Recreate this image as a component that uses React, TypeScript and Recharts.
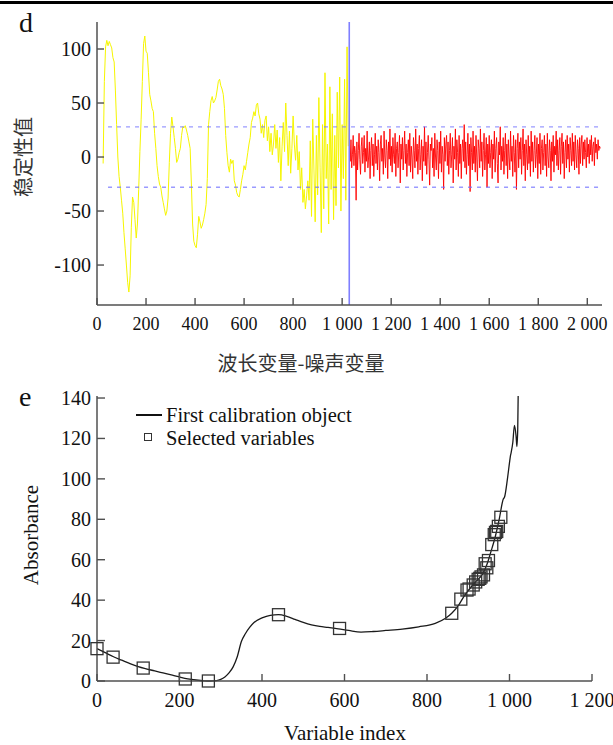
import React from 'react';
import { LineChart, Line, XAxis, YAxis, ReferenceLine, ComposedChart, Scatter } from 'recharts';

// ---------- Panel d data ----------
const wavelengthStart = 25;
const wavelengthStep = 5;
const wavelengthValues = [
  -6, 70, 102, 108, 103, 107, 104, 101, 92, 88,
  62, 30, 0, -18, -28, -40, -52, -70, -85, -100,
  -116, -125, -110, -65, -37, -42, -58, -75, -62, -30,
  5, 35, 70, 105, 112, 98, 96, 78, 58, 52,
  45, 42, 22, 8, -8, -18, -25, -28, -36, -42,
  -48, -54, -50, -38, -5, 22, 37, 28, 18, 8,
  -5, -2, 4, 8, 20, 28, 27, 29, 25, 20,
  14, 8, -25, -62, -78, -82, -84, -72, -55, -60,
  -66, -63, -58, -52, -44, -20, 30, 42, 52, 56,
  50, 52, 55, 62, 70, 72, 66, 63, 58, 45,
  20, 4, -8, -14, -2, -6, -3, -22, -26, -33,
  -36, -37, -30, -22, -16, -8, -12, -4, 4, 12,
  18, 32, 36, 42, 38, 48, 50, 40, 35, 22,
  30, 18, 34, 38, 15, 28, 5, 22, 2, 12,
  30, 8, 25, -5, 18, -22, 10, 32, 5, 50,
  20, -8, 24, -15, 8, 38, 12, -3, 20, -12,
  5, -30, -10, -42, -30, -48, -36, -22, -40, 15,
  -55, 35, -12, -60, 20, -35, 55, -10, -70, 30,
  -48, 78, -20, 12, -62, 65, -30, 40, -58, 20,
  -45, 60, -10, 74, -50, 30, -20, 72, -40, 102,
  10,
];
const noiseStart = 1030;
const noiseStep = 3;
const noiseValues = [
  12, -4, 16, -10, 2, 20, -8, 10, 4, -40, 14, -12, 6, 22, -2, -16, 10, 18, -6,
  4, 20, -14, 8, -4, 24, -10, 0, 14, -20, 6, 18, -8, 12, -18, 2, 22, -6, 10,
  -12, 16, 4, -22, 12, 20, -4, 8, -16, 24, 0, -10, 16, 6, -20, 14, -2, 26, -8,
  10, -14, 18, 2, -6, 22, -18, 8, 14, -10, 4, 20, -24, 12, -2, 18, -12, 6, 24,
  -6, 12, -18, 4, 16, -8, 22, -14, 10, 0, -20, 18, 6, -10, 26, -4, 12, -16, 8,
  20, -12, 2, 16, -22, 10, -4, 28, -8, 14, -16, 4, 20, -2, -26, 12, 6, 18, -10,
  8, -18, 22, 0, -12, 16, 6, -20, 14, -6, 24, -14, 10, 2, -30, 18, -4, 12, 20,
  -8, 14, -16, 6, 22, -10, 2, 18, -24, 10, -2, 26, -12, 16, 4, -18, 20, -6, 12,
  -20, 8, 16, -4, 30, -10, 14, -16, 2, 22, -8, 12, -32, 18, 4, -12, 24, -6, 10,
  -14, 20, 0, -22, 16, 8, -10, 26, -4, 14, -18, 6, 22, -12, 2, 18, -28, 12, -6,
  20, -10, 4, 16, -20, 12, -2, 24, -14, 8, 18, -6, -24, 14, 2, 28, -12, 10, -4,
  18, -16, 6, 22, -8, 12, -20, 16, 0, -12, 24, -4, 10, -18, 20, 4, -14, 16, -30,
  8, 22, -10, 14, -2, 18, -16, 6, 26, -8, 12, -22, 16, 2, -12, 20, -6, 10, -18,
  24, -4, 14, -14, 6, 20, -10, 2, 18, -20, 12, -6, 22, -16, 8, 16, -12, 4, 20,
  -8, 12, -18, 22, 0, -10, 16, 6, -22, 14, -4, 20, -14, 10, 2, 24, -8, 16, -12,
  6, 18, -16, 10, 22, -6, 14, -20, 4, 16, -10, 20, -2, 12, -14, 18, 6, -8, 22,
  -4, 14, -12, 20, 2, -10, 16, 8, -16, 18, -6, 12, 20, -8, 14, -2, 16, 4, -10,
  18, 0, 12, -6, 16, 2, 20, -4, 10, 14, -8, 18, 4, 12, -2, 16, 6, 10, 8,
];
const thresholdValue = 28;
const thresholdFrom = 45;
const thresholdTo = 2045;
const splitVariable = 1029;
const dXTicks = [0, 200, 400, 600, 800, 1000, 1200, 1400, 1600, 1800, 2000];
const dYTicks = [-100, -50, 0, 50, 100];

// ---------- Panel e data ----------
const curveX = [0, 20, 40, 60, 80, 100, 115, 140, 160, 180, 200, 220, 240, 260, 275, 290, 300, 310, 320, 330, 340, 350, 360, 370, 380, 400, 420, 440, 460, 480, 500, 520, 540, 560, 585, 610, 640, 670, 700, 740, 780, 820, 845, 860, 875, 890, 905, 920, 935, 945, 955, 965, 975, 985, 988, 995, 1000, 1002, 1004, 1008, 1012, 1016, 1018, 1020, 1021];
const curveY = [16, 14, 12, 10.3, 8.6, 7.1, 6.2, 5, 4, 3, 2, 1.1, 0.5, 0.1, 0, 0.2, 0.8, 2, 4, 7, 12, 19.5, 23.5, 26.5, 28.8, 31.2, 32.5, 32.8, 32, 30.5, 29, 27.8, 27, 26.5, 25.8, 25, 24.2, 24.5, 25, 25.7, 26.8, 28.5, 31, 33.5, 37, 42, 46, 49.5, 53, 57.5, 64, 71, 80, 90, 91, 100, 108, 111, 113, 118, 126.5, 121, 116, 125, 141];
const selectedX = [0, 39, 112, 214, 270, 440, 588, 860, 882, 897, 902, 912, 918, 924, 928, 931, 937, 941, 945, 949, 957, 963, 966, 969, 973, 979];
const selectedY = [16, 11.8, 6.4, 1, 0, 32.8, 26, 33.5, 40.5, 45, 45.5, 47.5, 49, 50.3, 50.8, 51.5, 52.5, 58, 56, 59.6, 67.5, 72.4, 73.5, 74, 76.5, 81];
const eXTicks = [0, 200, 400, 600, 800, 1000, 1200];
const eYTicks = [0, 20, 40, 60, 80, 100, 120, 140];

const wavelengthData = wavelengthValues.map((v, i) => ({ x: wavelengthStart + i * wavelengthStep, y: v }));
const noiseData = noiseValues.map((v, i) => ({ x: noiseStart + i * noiseStep, y: v }));
const upperData = [{ x: thresholdFrom, y: thresholdValue }, { x: thresholdTo, y: thresholdValue }];
const lowerData = [{ x: thresholdFrom, y: -thresholdValue }, { x: thresholdTo, y: -thresholdValue }];
const curveData = curveX.map((x, i) => ({ x, y: curveY[i] }));
const selectedData = selectedX.map((x, i) => ({ x, y: selectedY[i] }));

const SERIF = '"Liberation Serif", "Times New Roman", serif';
const CJK = '"Noto Sans CJK SC", sans-serif';
const AXIS = '#505050';

const fmt = (v: number) => {
  if (Math.abs(v) >= 1000) {
    const th = Math.floor(v / 1000);
    return `${th} ${String(v % 1000).padStart(3, '0')}`;
  }
  return String(v);
};

const makeXTick = (fontSize: number, len: number, dy: number) => (props: any) => {
  const { x, y, payload } = props;
  return (
    <g>
      <line x1={x} x2={x} y1={y} y2={y - len} stroke={AXIS} strokeWidth={1.4} />
      <text x={x} y={y + dy} textAnchor="middle" fontFamily={SERIF} fontSize={fontSize} fill="#111">
        {fmt(payload.value)}
      </text>
    </g>
  );
};

const makeYTick = (fontSize: number, len: number) => (props: any) => {
  const { x, y, payload } = props;
  return (
    <g>
      <line x1={x} x2={x + len} y1={y} y2={y} stroke={AXIS} strokeWidth={1.4} />
      <text x={x - 6} y={y} dy="0.35em" textAnchor="end" fontFamily={SERIF} fontSize={fontSize} fill="#111">
        {fmt(payload.value)}
      </text>
    </g>
  );
};

const SquareShape = (props: any) => {
  const { cx, cy } = props;
  return <rect x={cx - 6} y={cy - 6} width={12} height={12} fill="none" stroke="#333" strokeWidth={1.3} />;
};

export default function App() {
  return (
    <div style={{ position: 'absolute', left: 0, top: 0, width: 613, height: 745, background: '#fff', overflow: 'hidden' }}>
      <div style={{ position: 'absolute', left: 0, top: 1, width: 613, height: 3, background: '#000' }} />

      {/* Panel d */}
      <div style={{ position: 'absolute', left: 0, top: 0 }}>
        <LineChart width={613} height={345} margin={{ top: 22, right: 11, bottom: 0, left: 0 }}>
          <XAxis
            type="number"
            dataKey="x"
            domain={[0, 2060]}
            ticks={dXTicks}
            interval={0}
            height={40}
            tickSize={0}
            tickMargin={0}
            tickLine={false}
            axisLine={{ stroke: AXIS, strokeWidth: 1.5 }}
            tick={makeXTick(18, 7, 25)}
          />
          <YAxis
            type="number"
            domain={[-137, 125]}
            ticks={dYTicks}
            interval={0}
            width={97}
            tickSize={0}
            tickMargin={0}
            tickLine={false}
            axisLine={{ stroke: AXIS, strokeWidth: 1.5 }}
            tick={makeYTick(20, 7)}
          />
          <Line data={wavelengthData} dataKey="y" stroke="#f6f600" strokeWidth={1} dot={false} isAnimationActive={false} type="linear" />
          <Line data={noiseData} dataKey="y" stroke="#ff0000" strokeWidth={0.9} dot={false} isAnimationActive={false} type="linear" />
          <Line data={upperData} dataKey="y" stroke="#6f6fff" strokeOpacity={0.7} strokeWidth={1.3} strokeDasharray="4 5" dot={false} isAnimationActive={false} />
          <Line data={lowerData} dataKey="y" stroke="#6f6fff" strokeOpacity={0.7} strokeWidth={1.3} strokeDasharray="4 5" dot={false} isAnimationActive={false} />
          <ReferenceLine x={splitVariable} stroke="#7f7fff" strokeWidth={1.6} />
        </LineChart>
      </div>

      {/* Panel e */}
      <div style={{ position: 'absolute', left: 0, top: 380 }}>
        <ComposedChart width={613} height={365} margin={{ top: 16, right: 21, bottom: 0, left: 0 }}>
          <XAxis
            type="number"
            dataKey="x"
            domain={[0, 1200]}
            ticks={eXTicks}
            interval={0}
            height={64}
            tickSize={0}
            tickMargin={0}
            tickLine={false}
            axisLine={{ stroke: AXIS, strokeWidth: 1.5 }}
            tick={makeXTick(20, 7, 26)}
          />
          <YAxis
            type="number"
            dataKey="y"
            domain={[0, 140]}
            ticks={eYTicks}
            interval={0}
            width={97}
            tickSize={0}
            tickMargin={0}
            tickLine={false}
            axisLine={{ stroke: AXIS, strokeWidth: 1.5 }}
            tick={makeYTick(20, 8)}
          />
          <Line data={curveData} dataKey="y" stroke="#1a1a1a" strokeWidth={1.3} dot={false} isAnimationActive={false} type="monotone" />
          <Scatter data={selectedData} dataKey="y" shape={<SquareShape />} isAnimationActive={false} />
        </ComposedChart>
      </div>

      {/* Panel letters and axis titles */}
      <div style={{ position: 'absolute', left: 19, top: 6, fontFamily: SERIF, fontSize: 28, lineHeight: '34px', color: '#111' }}>d</div>
      <div style={{ position: 'absolute', left: 19, top: 380, fontFamily: SERIF, fontSize: 28, lineHeight: '34px', color: '#111' }}>e</div>

      <div style={{ position: 'absolute', left: 22, top: 157, width: 0, height: 0 }}>
        <div style={{ position: 'absolute', transform: 'translate(-50%, -50%) rotate(-90deg)', whiteSpace: 'nowrap', fontFamily: CJK, fontSize: 20, color: '#333' }}>稳定性值</div>
      </div>
      <div style={{ position: 'absolute', left: 301, top: 362, width: 0, height: 0 }}>
        <div style={{ position: 'absolute', transform: 'translate(-50%, -50%)', whiteSpace: 'nowrap', fontFamily: CJK, fontSize: 20, color: '#333' }}>波长变量-噪声变量</div>
      </div>

      <div style={{ position: 'absolute', left: 31, top: 535, width: 0, height: 0 }}>
        <div style={{ position: 'absolute', transform: 'translate(-50%, -50%) rotate(-90deg)', whiteSpace: 'nowrap', fontFamily: SERIF, fontSize: 21, color: '#111' }}>Absorbance</div>
      </div>
      <div style={{ position: 'absolute', left: 345, top: 733, width: 0, height: 0 }}>
        <div style={{ position: 'absolute', transform: 'translate(-50%, -50%)', whiteSpace: 'nowrap', fontFamily: SERIF, fontSize: 21, lineHeight: '22px', color: '#111' }}>Variable index</div>
      </div>

      {/* Legend for panel e */}
      <div style={{ position: 'absolute', left: 136, top: 414, width: 26, height: 1.5, background: '#111' }} />
      <div style={{ position: 'absolute', left: 166, top: 403, fontFamily: SERIF, fontSize: 20.5, lineHeight: '24px', color: '#111', whiteSpace: 'nowrap' }}>First calibration object</div>
      <div style={{ position: 'absolute', left: 144, top: 433, width: 8, height: 8, border: '1.3px solid #333', boxSizing: 'border-box' }} />
      <div style={{ position: 'absolute', left: 166, top: 426, fontFamily: SERIF, fontSize: 20.5, lineHeight: '24px', color: '#111', whiteSpace: 'nowrap' }}>Selected variables</div>
    </div>
  );
}
